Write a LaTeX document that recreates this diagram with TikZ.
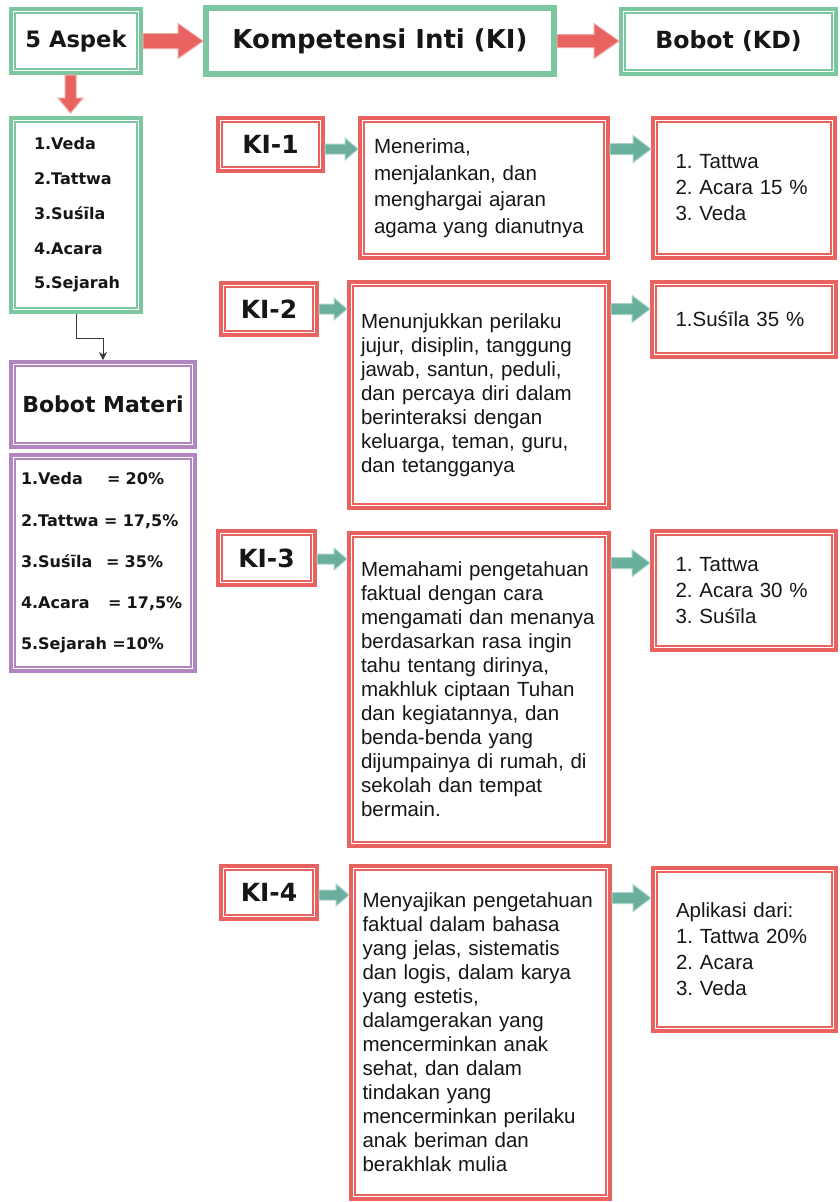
\documentclass[tikz,border=0pt]{standalone}
\usepackage{fontspec}
\setmainfont{Liberation Sans}
\newfontfamily\headfont{DejaVu Sans}
\usetikzlibrary{calc,arrows.meta}
\frenchspacing

\definecolor{mint}{HTML}{7CC6A0}
\definecolor{coral}{HTML}{E8625F}
\definecolor{coralpale}{HTML}{F4A5A3}
\definecolor{lilac}{HTML}{B085C0}
\definecolor{arrowteal}{HTML}{6AAE9E}
\definecolor{tealpale}{HTML}{A9D3C7}
\definecolor{ink}{HTML}{161616}

% block arrow pointing right: style, tail node, head node, y reference,
% half shaft width, half head width, head length
\newcommand{\rightblock}[7]{%
  \path[#1] let \p1=(#2.east), \p2=(#3.west), \p3=(#4) in
    (\x1,{\y3+#5}) -- ({\x2-#7},{\y3+#5}) -- ({\x2-#7},{\y3+#6}) -- (\x2,\y3)
    -- ({\x2-#7},{\y3-#6}) -- ({\x2-#7},{\y3-#5}) -- (\x1,{\y3-#5}) -- cycle;}

\tikzset{
  framed/.style={draw=#1, line width=4pt, fill=white, text=ink, anchor=north west,
    path picture={\draw[#1, line width=1.6pt]
      ([xshift=4.2pt,yshift=-4.2pt]path picture bounding box.north west) rectangle
      ([xshift=-4.2pt,yshift=4.2pt]path picture bounding box.south east);}},
  headtext/.style={font=\headfont\bfseries\fontsize{#1}{#1}\selectfont},
  kilabel/.style={framed=coral, headtext=25},
  kitext/.style={framed=coral, align=left, inner sep=0pt, text width=236pt,
    font=\fontsize{20.5}{24}\selectfont},
  kdtext/.style={framed=coral, align=left, inner sep=0pt, text width=137pt,
    font=\fontsize{20.5}{26}\selectfont},
  redarrow/.style={fill=coral, draw=coralpale, line width=1pt},
  tealarrow/.style={fill=arrowteal, draw=tealpale, line width=1pt},
}

\begin{document}
\begin{tikzpicture}[x=1pt,y=-1pt]
\fill[white] (0,0) rectangle (839,1202);
\useasboundingbox (0,0) rectangle (839,1202);

% header row
\node[framed=mint, minimum width=130pt, minimum height=64pt, headtext=22.6] (asp) at (9,7) {5 Aspek};
\node[draw=mint, line width=6pt, fill=white, text=ink, anchor=north west,
      minimum width=348pt, minimum height=66pt, headtext=26] (ki) at (203,5) {Kompetensi Inti (KI)};
\node[framed=mint, minimum width=215pt, minimum height=65pt, headtext=23.6] (kd) at (619,7) {Bobot (KD)};

% left column
\node[framed=mint, minimum width=130pt, minimum height=194pt, align=left, inner sep=0pt,
      text width=84pt, font=\headfont\bfseries\fontsize{16}{34.7}\selectfont] (asl) at (9,116)
  {1.Veda\\2.Tattwa\\3.Suśīla\\4.Acara\\5.Sejarah};
\node[framed=lilac, minimum width=184pt, minimum height=85pt, headtext=22] (bm) at (9,360) {Bobot Materi};
\node[framed=lilac, minimum width=184pt, minimum height=216pt, align=left, inner sep=0pt,
      text width=164pt, font=\headfont\bfseries\fontsize{16}{41.2}\selectfont] (bml) at (9,453)
  {\makebox[86pt][l]{1.Veda}= 20\%\\2.Tattwa = 17,5\%\\\makebox[85pt][l]{3.Suśīla}= 35\%\\\makebox[87pt][l]{4.Acara}= 17,5\%\\5.Sejarah =10\%};

% KI labels
\node[kilabel, minimum width=105pt, minimum height=53pt] (k1) at (216,116) {KI-1};
\node[kilabel, minimum width=96pt, minimum height=52pt] (k2) at (219,281) {KI-2};
\node[kilabel, minimum width=97pt, minimum height=54pt] (k3) at (216,529) {KI-3};
\node[kilabel, minimum width=96pt, minimum height=53pt] (k4) at (219,864) {KI-4};

% KI descriptions
\node[kitext, text width=220pt, minimum width=248pt, minimum height=140pt,
      font=\fontsize{20.5}{26.5}\selectfont] (t1) at (358,116)
  {Menerima,\\menjalankan, dan\\menghargai ajaran\\agama yang dianutnya};
\node[kitext, minimum width=260pt, minimum height=226pt] (t2) at (347,280)
  {Menunjukkan perilaku\\jujur, disiplin, tanggung\\jawab, santun, peduli,\\dan percaya diri dalam\\berinteraksi dengan\\keluarga, teman, guru,\\dan tetangganya};
\node[kitext, minimum width=260pt, minimum height=313pt] (t3) at (347,531)
  {Memahami pengetahuan\\faktual dengan cara\\mengamati dan menanya\\berdasarkan rasa ingin\\tahu tentang dirinya,\\makhluk ciptaan Tuhan\\dan kegiatannya, dan\\benda-benda yang\\dijumpainya di rumah, di\\sekolah dan tempat\\bermain.};
\node[kitext, minimum width=259pt, minimum height=333pt] (t4) at (349,864)
  {Menyajikan pengetahuan\\faktual dalam bahasa\\yang jelas, sistematis\\dan logis, dalam karya\\yang estetis,\\dalamgerakan yang\\mencerminkan anak\\sehat, dan dalam\\tindakan yang\\mencerminkan perilaku\\anak beriman dan\\berakhlak mulia};

% KD weights
\node[kdtext, minimum width=182pt, minimum height=140pt] (d1) at (651,116)
  {1. Tattwa\\2. Acara 15 \%\\3. Veda};
\node[kdtext, minimum width=184pt, minimum height=75pt] (d2) at (650,280)
  {1.Suśīla 35 \%};
\node[kdtext, minimum width=184pt, minimum height=119pt] (d3) at (650,529)
  {1. Tattwa\\2. Acara 30 \%\\3. Suśīla};
\node[kdtext, minimum width=183pt, minimum height=163pt] (d4) at (651,866)
  {Aplikasi dari:\\1. Tattwa 20\%\\2. Acara\\3. Veda};

% header arrows
\rightblock{redarrow}{asp}{ki}{asp.center}{7.5pt}{17.5pt}{25pt}
\rightblock{redarrow}{ki}{kd}{ki.center}{6.5pt}{17.5pt}{25pt}
\path[redarrow] let \p1=([xshift=-5.5pt]asp.south), \p2=(asl.north) in
  ({\x1-5.5pt},\y1) -- ({\x1-5.5pt},{\y2+18pt}) -- ({\x1-12.5pt},{\y2+18pt}) -- (\x1,{\y2+3pt})
  -- ({\x1+12.5pt},{\y2+18pt}) -- ({\x1+5.5pt},{\y2+18pt}) -- ({\x1+5.5pt},\y1) -- cycle;

% elbow connector to the weighting box
\draw[line width=1pt, draw=ink!85, -{Stealth[length=8pt,width=8pt]}]
  (asl.south) -- ++(0,24) -| (bm.north);

% KI rows
\rightblock{tealarrow}{k1}{t1}{[yshift=-4.5pt]k1.center}{5pt}{11pt}{13pt}
\rightblock{tealarrow}{t1}{d1}{[yshift=-4.5pt]k1.center}{5.5pt}{13.5pt}{18pt}
\rightblock{tealarrow}{k2}{t2}{k2.center}{5pt}{11pt}{13pt}
\rightblock{tealarrow}{t2}{d2}{k2.center}{5.5pt}{13.5pt}{18pt}
\rightblock{tealarrow}{k3}{t3}{[yshift=-1pt]k3.center}{5pt}{11pt}{13pt}
\rightblock{tealarrow}{t3}{d3}{[yshift=-5pt]k3.center}{5.5pt}{13.5pt}{18pt}
\rightblock{tealarrow}{k4}{t4}{[yshift=-2.5pt]k4.center}{5pt}{11pt}{13pt}
\rightblock{tealarrow}{t4}{d4}{[yshift=-5.5pt]k4.center}{5.5pt}{13.5pt}{18pt}
\end{tikzpicture}
\end{document}
